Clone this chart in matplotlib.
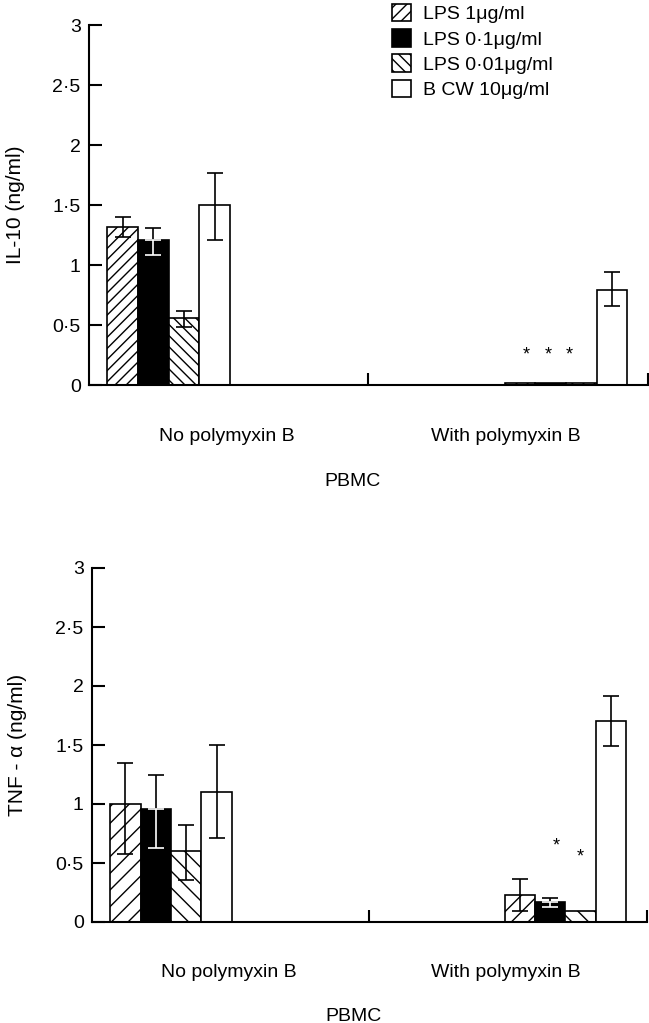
import matplotlib
matplotlib.use("Agg")
import matplotlib.pyplot as plt
from matplotlib.patches import Patch

plt.rcParams['font.family'] = ['Liberation Sans', 'DejaVu Sans']
plt.rcParams['font.size'] = 14
plt.rcParams['hatch.linewidth'] = 1.0

# series (legend order)
series = ["LPS 1\u03bcg/ml", "LPS 0\u00b71\u03bcg/ml", "LPS 0\u00b701\u03bcg/ml", "B CW 10\u03bcg/ml"]
groups = ["No polymyxin B", "With polymyxin B"]

# IL-10 (ng/ml), rows = groups, cols = series
il10 = [[1.32, 1.21, 0.555, 1.50],
        [0.015, 0.015, 0.015, 0.79]]
il10_lo = [[0.09, 0.13, 0.075, 0.29],
           [0.0, 0.0, 0.0, 0.13]]
il10_hi = [[0.08, 0.10, 0.06, 0.27],
           [0.0, 0.0, 0.0, 0.15]]
il10_star_x = [14.26, 14.98, 15.67]
il10_star_y = [0.25, 0.25, 0.25]

# TNF-alpha (ng/ml)
tnf = [[1.00, 0.96, 0.60, 1.105],
       [0.23, 0.17, 0.09, 1.706]]
tnf_lo = [[0.42, 0.335, 0.24, 0.39],
          [0.14, 0.04, 0.0, 0.215]]
tnf_hi = [[0.345, 0.29, 0.22, 0.395],
          [0.137, 0.035, 0.0, 0.21]]
tnf_star_x = [15.28, 16.07]
tnf_star_y = [0.64, 0.55]

yticks = [0, 0.5, 1, 1.5, 2, 2.5, 3]
ytick_labels = ["0", "0\u00b75", "1", "1\u00b75", "2", "2\u00b75", "3"]

group_start = [0.6, 13.57]
separator = 9.1
xmax = 18.25
label_x = [4.5, 13.6]
pbmc_x = 8.6

colors = ["white", "black", "white", "white"]
hatches = ["///", "", "\\\\\\", ""]


def draw_panel(ax, vals, lo, hi, stars_x, stars_y, ylabel, sparse, ylab_x):
    for g in range(len(groups)):
        for i in range(len(series)):
            x = group_start[g] + i + 0.5
            h = hatches[i]
            if sparse and h:
                h = h[:2]
            ax.bar(x, vals[g][i], width=1.0, color=colors[i], hatch=h,
                   edgecolor="black", linewidth=1.2, zorder=2)
            if lo[g][i] > 0 or hi[g][i] > 0:
                if colors[i] == "black":
                    # lower half of the bar drawn white over the black fill
                    ax.errorbar(x, vals[g][i], yerr=[[0], [hi[g][i]]], fmt="none",
                                ecolor="black", elinewidth=1.2, capsize=6, capthick=1.2, zorder=3)
                    ax.errorbar(x, vals[g][i], yerr=[[lo[g][i]], [0]], fmt="none",
                                ecolor="white", elinewidth=1.2, capsize=6, capthick=1.2, zorder=3)
                else:
                    ax.errorbar(x, vals[g][i], yerr=[[lo[g][i]], [hi[g][i]]], fmt="none",
                                ecolor="black", elinewidth=1.2, capsize=6, capthick=1.2, zorder=3)
    for sx, sy in zip(stars_x, stars_y):
        ax.text(sx, sy, "*", ha="center", va="center", fontsize=13)

    ax.set_xlim(0, xmax)
    ax.set_ylim(0, 3)
    ax.set_yticks(yticks)
    ax.set_yticklabels(ytick_labels)
    ax.set_xticks([separator, xmax])
    ax.set_xticklabels(["", ""])
    ax.tick_params(axis="y", direction="in", length=9.5, width=1.5, pad=6)
    ax.tick_params(axis="x", direction="in", length=8.5, width=1.5)
    ax.spines["top"].set_visible(False)
    ax.spines["right"].set_visible(False)
    ax.spines["left"].set_linewidth(1.5)
    ax.spines["bottom"].set_linewidth(1.5)
    ax.set_ylabel(ylabel, fontsize=15)
    ax.yaxis.set_label_coords(ylab_x, 0.5)
    tr = ax.get_xaxis_transform()
    for lx, name in zip(label_x, groups):
        ax.text(lx, -0.142, name, transform=tr, ha="center", va="center")
    ax.text(pbmc_x, -0.267, "PBMC", transform=tr, ha="center", va="center")


fig = plt.figure(figsize=(6.49, 10.23), dpi=100)
ax1 = fig.add_axes([89 / 649, 1 - 385 / 1023, 559 / 649, 360 / 1023])
ax2 = fig.add_axes([92 / 649, 1 - 922 / 1023, 555 / 649, 354 / 1023])

draw_panel(ax1, il10, il10_lo, il10_hi, il10_star_x, il10_star_y, "IL-10 (ng/ml)", False, -0.115)
draw_panel(ax2, tnf, tnf_lo, tnf_hi, tnf_star_x, tnf_star_y, "TNF - \u03b1 (ng/ml)", True, -0.118)

handles = [Patch(facecolor=colors[i], edgecolor="black", hatch=hatches[i], linewidth=1.2)
           for i in range(len(series))]
fig.legend(handles, series, loc="upper left", bbox_to_anchor=(392 / 649, 1 - 4 / 1023),
           frameon=False, borderpad=0, borderaxespad=0, handlelength=1.0,
           handleheight=1.0, handletextpad=0.6, labelspacing=0.3, fontsize=14)

fig.savefig("out.png", dpi=100)
